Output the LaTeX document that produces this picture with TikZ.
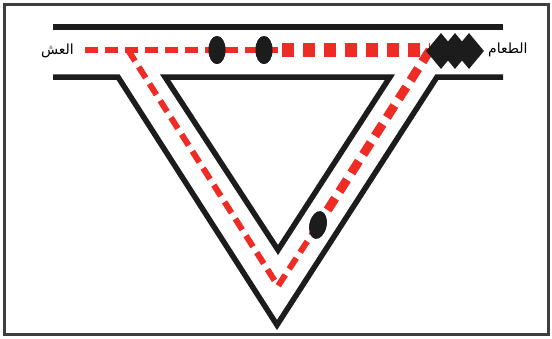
\documentclass[tikz,border=0pt]{standalone}
\usepackage{fontspec}
\usepackage{tikz}
\usetikzlibrary{shapes.geometric,positioning}
\newfontfamily\arabicfont[Script=Arabic]{DejaVu Sans}
\TeXXeTstate=1
\definecolor{Trail}{HTML}{EE2B24}
\definecolor{Wall}{HTML}{1C1C1C}
\tikzset{
  wall/.style={draw=Wall,line width=5.5pt,miter limit=10},
  trail/.style={draw=Trail,line width=6pt,dash pattern=on 13pt off 7pt},
  strongtrail/.style={draw=Trail,line width=14pt,dash pattern=on 12pt off 9pt},
  ant/.style={ellipse,fill=Wall,minimum width=17pt,minimum height=28pt,inner sep=0pt},
  food/.style={diamond,fill=Wall,minimum width=30pt,minimum height=36pt,inner sep=0pt},
  place/.style={font=\arabicfont\fontsize{14}{16}\selectfont,inner sep=0pt}
}

\begin{document}
\begin{tikzpicture}[x=1pt,y=-1pt]
  \useasboundingbox (0,0) rectangle (552,338);
  \draw[Wall!85,line width=3pt] (4,4) rectangle (548,334);
  \draw[wall] (53,27) -- (503,27);
  \draw[wall] (53,77) -- (118,77) -- (277,325) -- (437,77) -- (503,77);
  \draw[wall] (165,77) -- (390,77) -- (278,250) -- cycle;
  \node[place,anchor=east] (nest) at (74,51) {\beginR العش\endR};
  \node[place,anchor=west] (meal) at (488,50) {\beginR الطعام\endR};
  \coordinate (start) at (85,50);
  \coordinate (fork) at (128,50);
  \coordinate (mid) at (282,50);
  \coordinate (turn) at (430,50);
  \coordinate (tip) at (278,286);
  \node[ant] (ant1) at (217,50) {};
  \node[ant] (ant2) at (264,50) {};
  \node[ant,rotate=-12] (ant3) at (318,225) {};
  \draw[trail] (start) -- (mid);
  \draw[trail] (fork) -- (tip) -- (ant3.center);
  \draw[strongtrail] (mid) -- (turn);
  \draw[trail,line width=9pt,dash pattern=on 14pt off 8pt] (turn) -- (ant3.center);
  \node[ant] at (ant1) {};
  \node[ant] at (ant2) {};
  \node[ant,rotate=-12] at (ant3) {};
  \foreach \i/\x in {1/441,2/455,3/469}
    \node[food] (food\i) at (\x,51) {};
\end{tikzpicture}
\end{document}
